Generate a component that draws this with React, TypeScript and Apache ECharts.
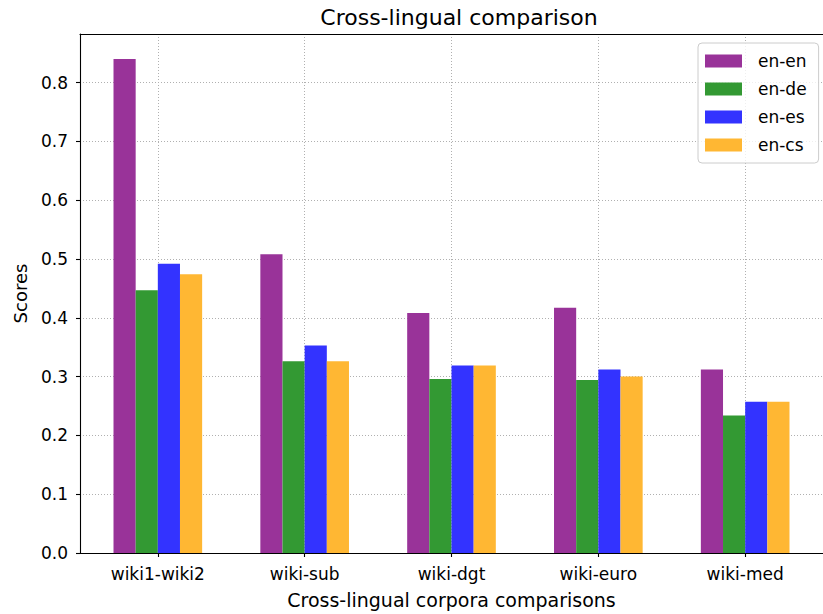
import React, { useEffect, useRef } from "react";
import * as echarts from "echarts";

// Corpus pairs on the x axis
const categories = ["wiki1-wiki2", "wiki-sub", "wiki-dgt", "wiki-euro", "wiki-med"];

// Language-pair series
const seriesNames = ["en-en", "en-de", "en-es", "en-cs"];
const enEn = [0.84, 0.508, 0.408, 0.417, 0.312];
const enDe = [0.447, 0.326, 0.296, 0.294, 0.234];
const enEs = [0.492, 0.353, 0.319, 0.312, 0.257];
const enCs = [0.474, 0.326, 0.319, 0.3, 0.257];
const seriesValues = [enEn, enDe, enEs, enCs];
const seriesColors = ["#993399", "#339933", "#3333ff", "#ffb733"];

// Axis tick values
const yTicks = [0, 0.1, 0.2, 0.3, 0.4, 0.5, 0.6, 0.7, 0.8];
const xTicks = categories.map((_, i) => i);

const FONT = "DejaVu Sans";

export default function App() {
  const ref = useRef<HTMLDivElement>(null);

  useEffect(() => {
    if (!ref.current) return;
    const chart = echarts.init(ref.current, undefined, { renderer: "svg" });

    const gridLine = { show: true, lineStyle: { color: "#b0b0b0", type: [1, 2], width: 1 } };

    chart.setOption({
      animation: false,
      backgroundColor: "#ffffff",
      textStyle: { fontFamily: FONT },
      title: {
        text: "Cross-lingual comparison",
        left: 454,
        top: 1,
        textAlign: "center",
        textStyle: { fontFamily: FONT, fontSize: 22, fontWeight: "normal", color: "#000" },
      },
      legend: {
        orient: "vertical",
        left: 698,
        top: 43,
        padding: [9, 12, 9, 7],
        itemWidth: 37,
        itemHeight: 13,
        itemGap: 10,
        icon: "rect",
        borderColor: "#cccccc",
        borderWidth: 1,
        borderRadius: 4,
        backgroundColor: "rgba(255,255,255,0.8)",
        data: seriesNames,
        textStyle: {
          fontFamily: FONT,
          fontSize: 17,
          color: "#000",
          lineHeight: 18,
          padding: [0, 0, 0, 11],
        },
      },
      grid: { left: 80, top: 34, width: 747.6, height: 520.5, containLabel: false },
      xAxis: [
        {
          type: "value",
          min: -0.53,
          max: 4.53,
          position: "bottom",
          name: "Cross-lingual corpora comparisons",
          nameLocation: "middle",
          nameGap: 37,
          nameTextStyle: { fontFamily: FONT, fontSize: 19, color: "#000" },
          axisLine: { show: true, onZero: false, lineStyle: { color: "#000", width: 1.1 } },
          axisTick: { show: true, length: 4, customValues: xTicks, lineStyle: { color: "#000", width: 1.1 } },
          axisLabel: {
            customValues: xTicks,
            margin: 12,
            fontFamily: FONT,
            fontSize: 17,
            color: "#000",
            formatter: (v: number) => categories[Math.round(v)] ?? "",
          },
          splitLine: gridLine,
        },
        {
          type: "value",
          min: -0.53,
          max: 4.53,
          position: "top",
          axisLine: { show: true, onZero: false, lineStyle: { color: "#000", width: 1.1 } },
          axisTick: { show: false },
          axisLabel: { show: false },
          splitLine: { show: false },
        },
      ],
      yAxis: {
        type: "value",
        min: 0,
        max: 0.8826,
        name: "Scores",
        nameLocation: "middle",
        nameGap: 51,
        nameRotate: 90,
        nameTextStyle: { fontFamily: FONT, fontSize: 18, color: "#000" },
        axisLine: { show: true, onZero: false, lineStyle: { color: "#000", width: 1.1 } },
        axisTick: { show: true, length: 4, customValues: yTicks, lineStyle: { color: "#000", width: 1.1 } },
        axisLabel: {
          customValues: yTicks,
          margin: 12,
          fontFamily: FONT,
          fontSize: 17,
          color: "#000",
          formatter: (v: number) => v.toFixed(1),
        },
        splitLine: gridLine,
      },
      series: seriesValues.map((vals, si) => ({
        name: seriesNames[si],
        type: "bar",
        xAxisIndex: 0,
        barWidth: 22.16,
        barGap: "0%",
        itemStyle: { color: seriesColors[si] },
        data: vals.map((v, i) => [i, v]),
      })),
    });

    return () => chart.dispose();
  }, []);

  return (
    <div
      ref={ref}
      style={{ position: "fixed", left: 0, top: 0, width: 823, height: 614 }}
    />
  );
}
